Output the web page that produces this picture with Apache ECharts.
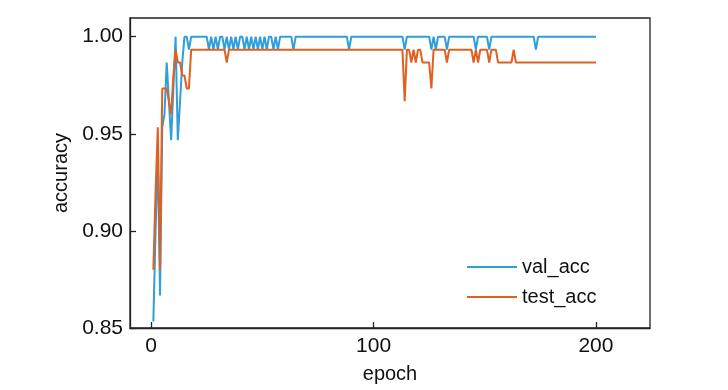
<!DOCTYPE html>
<html>
<head>
<meta charset="utf-8">
<script src="https://cdn.jsdelivr.net/npm/echarts@6/dist/echarts.min.js"></script>
<style>html,body{margin:0;padding:0;background:#fff}#c{width:728px;height:390px}</style>
</head>
<body>
<div id="c"></div>
<script>
const xTicks = [0, 100, 200];
const yTicks = [0.85, 0.90, 0.95, 1.00];
const seriesNames = ['val_acc', 'test_acc'];

const valAcc = [
0.8533,0.9000,0.9400,0.8667,0.9533,0.9600,0.9867,0.9667,0.9467,0.9733,
1,0.9467,0.9667,0.9867,1,1,0.9933,1,1,1,
1,1,1,1,1,0.9933,1,0.9933,1,0.9933,
1,1,0.9933,1,0.9933,1,0.9933,1,0.9933,1,
1,0.9933,1,0.9933,1,0.9933,1,0.9933,1,0.9933,
1,0.9933,1,1,0.9933,1,0.9933,1,1,1,
1,1,1,0.9933,1,1,1,1,1,1,
1,1,1,1,1,1,1,1,1,1,
1,1,1,1,1,1,1,1,0.9933,1,
1,1,1,1,1,1,1,1,1,1,
1,1,1,1,1,1,1,1,1,1,
1,1,1,0.9933,1,1,1,1,1,1,
1,1,1,1,1,0.9933,1,0.9933,1,1,
1,1,0.9933,1,1,1,1,1,1,1,
1,1,1,1,1,0.9933,1,1,1,1,
1,0.9933,1,1,1,1,1,1,1,1,
1,1,1,1,1,1,1,1,1,1,
1,1,0.9933,1,1,1,1,1,1,1,
1,1,1,1,1,1,1,1,1,1,
1,1,1,1,1,1,1,1,1,1
];

const testAcc = [
0.8800,0.9200,0.9533,0.8800,0.9733,0.9733,0.9733,0.9667,0.9600,0.9800,
0.9933,0.9867,0.9867,0.9800,0.9800,0.9733,0.9733,0.9933,0.9933,0.9933,
0.9933,0.9933,0.9933,0.9933,0.9933,0.9933,0.9933,0.9933,0.9933,0.9933,
0.9933,0.9933,0.9933,0.9867,0.9933,0.9933,0.9933,0.9933,0.9933,0.9933,
0.9933,0.9933,0.9933,0.9933,0.9933,0.9933,0.9933,0.9933,0.9933,0.9933,
0.9933,0.9933,0.9933,0.9933,0.9933,0.9933,0.9933,0.9933,0.9933,0.9933,
0.9933,0.9933,0.9933,0.9933,0.9933,0.9933,0.9933,0.9933,0.9933,0.9933,
0.9933,0.9933,0.9933,0.9933,0.9933,0.9933,0.9933,0.9933,0.9933,0.9933,
0.9933,0.9933,0.9933,0.9933,0.9933,0.9933,0.9933,0.9933,0.9933,0.9933,
0.9933,0.9933,0.9933,0.9933,0.9933,0.9933,0.9933,0.9933,0.9933,0.9933,
0.9933,0.9933,0.9933,0.9933,0.9933,0.9933,0.9933,0.9933,0.9933,0.9933,
0.9933,0.9933,0.9933,0.9667,0.9933,0.9933,0.9867,0.9933,0.9867,0.9933,
0.9933,0.9867,0.9867,0.9867,0.9867,0.9733,0.9933,0.9933,0.9933,0.9933,
0.9933,0.9933,0.9867,0.9933,0.9933,0.9933,0.9933,0.9933,0.9933,0.9933,
0.9933,0.9933,0.9933,0.9933,0.9867,0.9933,0.9867,0.9933,0.9933,0.9933,
0.9933,0.9867,0.9933,0.9933,0.9933,0.9867,0.9867,0.9867,0.9867,0.9867,
0.9867,0.9867,0.9933,0.9867,0.9867,0.9867,0.9867,0.9867,0.9867,0.9867,
0.9867,0.9867,0.9867,0.9867,0.9867,0.9867,0.9867,0.9867,0.9867,0.9867,
0.9867,0.9867,0.9867,0.9867,0.9867,0.9867,0.9867,0.9867,0.9867,0.9867,
0.9867,0.9867,0.9867,0.9867,0.9867,0.9867,0.9867,0.9867,0.9867,0.9867
];

const epochs = valAcc.map((_, i) => i + 1);

const FONT = 'Liberation Sans, Arial, sans-serif';
const AX = '#222';
const BLUE = '#2f9fdc';
const ORANGE = '#e0601f';
const chart = echarts.init(document.getElementById('c'), null, {renderer: 'canvas'});
chart.setOption({
  animation: false,
  backgroundColor: '#fff',
  grid: {left: 130, top: 18, width: 520, height: 310, show: true, borderColor: AX, borderWidth: 1.3, backgroundColor: 'transparent'},
  legend: {
    orient: 'vertical', left: 467, top: 256, padding: 0,
    icon: 'rect', itemWidth: 50, itemHeight: 2, itemGap: 8,
    data: [
      {name: seriesNames[0], itemStyle: {color: BLUE}},
      {name: seriesNames[1], itemStyle: {color: ORANGE}}
    ],
    textStyle: {fontFamily: FONT, fontSize: 20, color: '#111', lineHeight: 22}
  },
  xAxis: {
    type: 'value', min: -9.5, max: 224.3,
    name: 'epoch', nameLocation: 'middle', nameGap: 36,
    nameTextStyle: {fontFamily: FONT, fontSize: 20, color: '#111'},
    axisLine: {show: true, onZero: false, lineStyle: {color: AX, width: 1.3}},
    axisTick: {show: true, inside: true, length: 6, customValues: xTicks, lineStyle: {color: AX, width: 1.3}},
    axisLabel: {customValues: xTicks, fontFamily: FONT, fontSize: 21, color: '#111', margin: 8},
    splitLine: {show: false}
  },
  yAxis: {
    type: 'value', min: 0.85, max: 1.0096,
    name: 'accuracy', nameLocation: 'middle', nameGap: 47, nameRotate: 90,
    nameTextStyle: {fontFamily: FONT, fontSize: 20, color: '#111'},
    axisLine: {show: true, onZero: false, lineStyle: {color: AX, width: 1.3}},
    axisTick: {show: true, inside: true, length: 6, customValues: yTicks, lineStyle: {color: AX, width: 1.3}},
    axisLabel: {customValues: yTicks, fontFamily: FONT, fontSize: 21, color: '#111', margin: 7,
      formatter: v => Number(v).toFixed(2)},
    splitLine: {show: false}
  },
  series: [
    {name: seriesNames[0], type: 'line', symbol: 'none', data: epochs.map((e, i) => [e, valAcc[i]]),
     lineStyle: {color: BLUE, width: 2}, itemStyle: {color: BLUE}},
    {name: seriesNames[1], type: 'line', symbol: 'none', data: epochs.map((e, i) => [e, testAcc[i]]),
     lineStyle: {color: ORANGE, width: 2}, itemStyle: {color: ORANGE}}
  ]
});
</script>
</body>
</html>
